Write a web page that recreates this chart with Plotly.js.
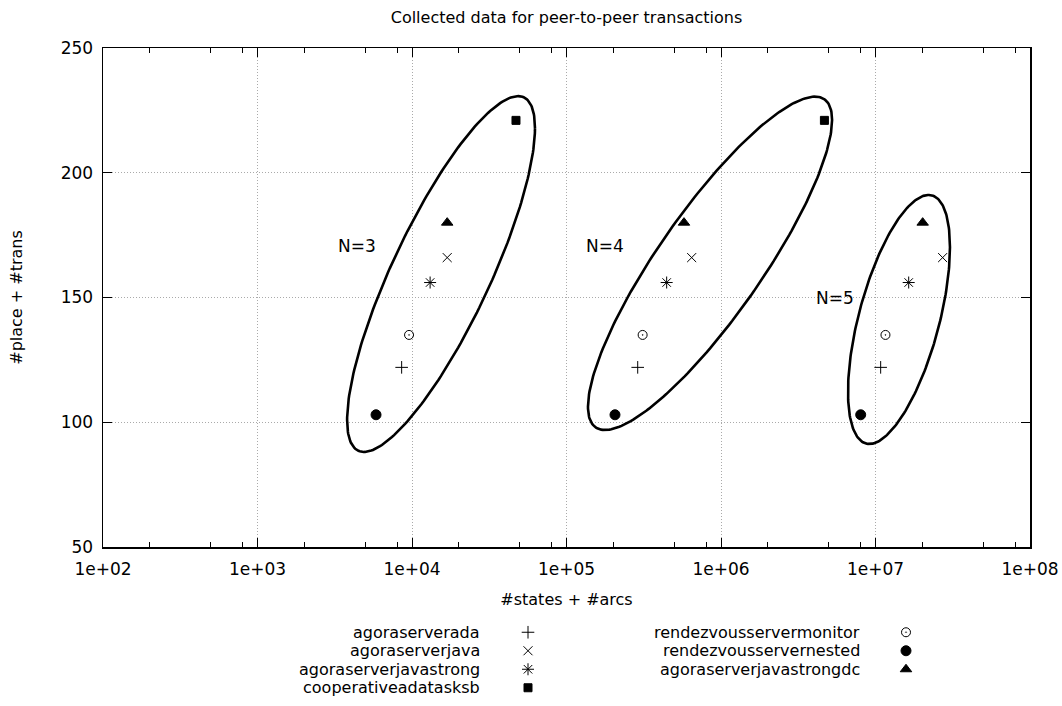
<!DOCTYPE html>
<html><head><meta charset="utf-8">
<script src="https://cdn.plot.ly/plotly-3.0.1.min.js"></script>
<style>body{margin:0;background:#fff}</style>
</head><body><div id="chart" style="width:1062px;height:706px"></div>
<script>
// ---- data ----
const seriesNames = ['agoraserverada','agoraserverjava','agoraserverjavastrong','cooperativeadatasksb',
                     'rendezvousservermonitor','rendezvousservernested','agoraserverjavastrongdc'];
const placesPlusTrans = [122, 166, 156, 221, 135, 103, 180];
const statesArcsN3 = [8570, 16900, 13100, 47100, 9570, 5850, 16900];
const statesArcsN4 = [289000, 646000, 445000, 4670000, 311000, 206000, 576000];
const statesArcsN5 = [10800000, 27200000, 16400000, null, 11600000, 8020000, 20200000];
const seriesSymbols = ['cross-thin-open','x-thin-open','asterisk-open','square','circle-open-dot','circle','triangle-up'];
const seriesSizes = [9, 9, 10, 8, 9, 10, 10];

const xTickVals = [1e2, 1e3, 1e4, 1e5, 1e6, 1e7, 1e8];
const xTickText = ['1e+02','1e+03','1e+04','1e+05','1e+06','1e+07','1e+08'];
const xMinorVals = [];
[1e2,1e3,1e4,1e5,1e6,1e7].forEach(d => [2,5,8].forEach(m => xMinorVals.push(d*m)));
const yTickVals = [50, 100, 150, 200, 250];

const groupLabels = ['N=3', 'N=4', 'N=5'];
const groupLabelX = [4400, 177000, 5470000];
const groupLabelY = [170.6, 170.6, 150];

// ellipses (centre in log10 x, y; half-extents; correlation)
const ellipseCx = [4.188, 5.929, 7.152];
const ellipseCy = [159.4, 163.7, 141.2];
const ellipseSx = [0.608, 0.790, 0.330];
const ellipseSy = [71.3, 66.8, 49.9];
const ellipseRho = [0.82, 0.86, 0.58];

// legend layout
const legendTextRight = [482, 862];
const legendSymbolX = [528, 906];

const FONT = 'DejaVu Sans, sans-serif';
const traces = [];

// ellipses
for (let e = 0; e < ellipseCx.length; e++) {
  const xs = [], ys = [];
  const k = Math.sqrt(1 - ellipseRho[e]*ellipseRho[e]);
  for (let i = 0; i <= 240; i++) {
    const t = 2*Math.PI*i/240;
    xs.push(Math.pow(10, ellipseCx[e] + ellipseSx[e]*Math.cos(t)));
    ys.push(ellipseCy[e] + ellipseSy[e]*(ellipseRho[e]*Math.cos(t) + k*Math.sin(t)));
  }
  traces.push({x: xs, y: ys, mode: 'lines', line: {color: '#000', width: 2.6},
               hoverinfo: 'skip', showlegend: false, xaxis: 'x', yaxis: 'y'});
}

// series
for (let i = 0; i < seriesNames.length; i++) {
  const xs = [statesArcsN3[i], statesArcsN4[i], statesArcsN5[i]];
  const ys = xs.map(v => v === null ? null : placesPlusTrans[i]);
  traces.push({x: xs, y: ys, mode: 'markers', name: seriesNames[i], showlegend: false,
    marker: {symbol: seriesSymbols[i], size: seriesSizes[i], color: '#000', line: {color: '#000', width: 1}},
    xaxis: 'x', yaxis: 'y'});
}

// custom legend (symbol right of text)
const annotations = [];
for (let i = 0; i < seriesNames.length; i++) {
  const col = i < 4 ? 0 : 1;
  const row = i < 4 ? i : i - 4;
  traces.push({x: [legendSymbolX[col]], y: [row], mode: 'markers', showlegend: false, hoverinfo: 'skip',
    marker: {symbol: seriesSymbols[i], size: seriesSizes[i], color: '#000', line: {color: '#000', width: 1}},
    xaxis: 'x2', yaxis: 'y2'});
  annotations.push({xref: 'x2', yref: 'y2', x: legendTextRight[col], y: row, text: seriesNames[i],
    xanchor: 'right', yanchor: 'middle', showarrow: false, font: {family: FONT, size: 16, color: '#000'}});
}
for (let g = 0; g < groupLabels.length; g++) {
  annotations.push({xref: 'x', yref: 'y', x: Math.log10(groupLabelX[g]), y: groupLabelY[g], text: groupLabels[g],
    showarrow: false, xanchor: 'center', yanchor: 'middle', font: {family: FONT, size: 17, color: '#000'}});
}

const layout = {
  width: 1062, height: 706,
  margin: {l: 103, r: 32, t: 48, b: 9},
  paper_bgcolor: '#fff', plot_bgcolor: '#fff',
  font: {family: FONT, color: '#000'},
  showlegend: false,
  title: {text: 'Collected data for peer-to-peer transactions', x: 0.5, xref: 'paper',
          y: 1 - 17/706, yref: 'container', yanchor: 'middle', font: {family: FONT, size: 16, color: '#000'}},
  xaxis: {type: 'log', range: [2, 8], domain: [0, 1], anchor: 'y',
    tickmode: 'array', tickvals: xTickVals, ticktext: xTickText,
    tickfont: {family: FONT, size: 17}, ticks: 'inside', ticklen: 9, tickwidth: 1, tickcolor: '#000',
    ticklabelstandoff: 6,
    showline: true, linecolor: '#000', linewidth: 1.5, mirror: 'allticks',
    showgrid: true, gridcolor: '#aaa', griddash: '1px,2px', gridwidth: 1, zeroline: false,
    minor: {tickmode: 'array', tickvals: xMinorVals, ticks: 'inside', ticklen: 5, tickcolor: '#000', showgrid: false},
    title: {text: '#states + #arcs', font: {family: FONT, size: 16}, standoff: 16}},
  yaxis: {range: [50, 250], domain: [(697-547)/649, 1], anchor: 'x',
    tickmode: 'array', tickvals: yTickVals,
    tickfont: {family: FONT, size: 17}, ticks: 'inside', ticklen: 9, tickwidth: 1, tickcolor: '#000',
    ticklabelstandoff: 5,
    showline: true, linecolor: '#000', linewidth: 1.5, mirror: 'allticks',
    showgrid: true, gridcolor: '#aaa', griddash: '1px,2px', gridwidth: 1, zeroline: false,
    title: {text: '#place + #trans', font: {family: FONT, size: 16}, standoff: 34}},
  xaxis2: {domain: [0, 1], range: [103, 1030], anchor: 'y2', visible: false, fixedrange: true},
  yaxis2: {domain: [0, (697-623)/649], range: [3.5, -0.5], anchor: 'x2', visible: false, fixedrange: true},
  annotations: annotations
};

Plotly.newPlot('chart', traces, layout, {displayModeBar: false, staticPlot: true});
</script>
</body></html>
